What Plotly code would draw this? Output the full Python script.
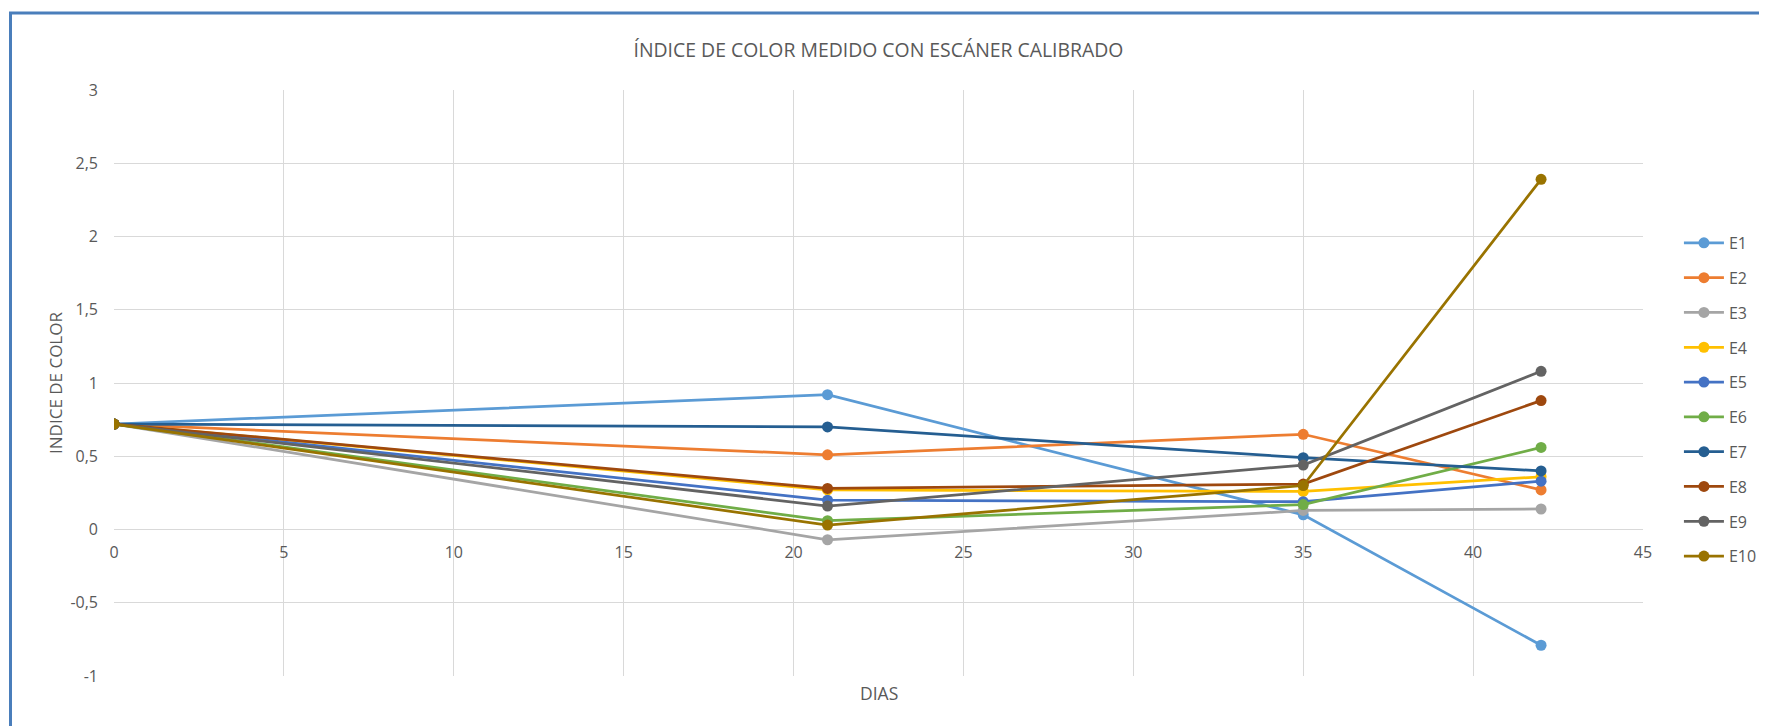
import plotly.graph_objects as go

dias = [0, 21, 35, 42]
series_names = ["E1", "E2", "E3", "E4", "E5", "E6", "E7", "E8", "E9", "E10"]
E1 = [0.72, 0.92, 0.10, -0.79]
E2 = [0.72, 0.51, 0.65, 0.27]
E3 = [0.72, -0.07, 0.13, 0.14]
E4 = [0.72, 0.27, 0.26, 0.36]
E5 = [0.72, 0.20, 0.19, 0.33]
E6 = [0.72, 0.06, 0.17, 0.56]
E7 = [0.72, 0.70, 0.49, 0.40]
E8 = [0.72, 0.28, 0.31, 0.88]
E9 = [0.72, 0.16, 0.44, 1.08]
E10 = [0.72, 0.03, 0.30, 2.39]
series_values = [E1, E2, E3, E4, E5, E6, E7, E8, E9, E10]
colors = ["#5B9BD5", "#ED7D31", "#A5A5A5", "#FFC000", "#4472C4",
          "#70AD47", "#255E91", "#9E480E", "#636363", "#997300"]
x_ticks = [0, 5, 10, 15, 20, 25, 30, 35, 40, 45]
y_ticks = [-1, -0.5, 0, 0.5, 1, 1.5, 2, 2.5, 3]
y_tick_labels = ["-1", "-0,5", "0", "0,5", "1", "1,5", "2", "2,5", "3"]

FONT = "Open Sans"
GRAY = "#595959"
# the page body adds an 8px offset; layout numbers below are figure coords
OFF = 8
L, R, T, B = 114 - OFF, 1767 - (1643 - OFF), 90 - OFF, 726 - (676 - OFF)
PH = 726 - T - B
PW = 1767 - L - R

fig = go.Figure()
for name, vals, col in zip(series_names, series_values, colors):
    fig.add_trace(go.Scatter(
        x=dias, y=vals, name=name, mode="lines+markers",
        line=dict(color=col, width=2.75),
        marker=dict(color=col, size=11),
        legendgroup=name,
    ))

fig.update_layout(
    width=1767, height=726,
    paper_bgcolor="white", plot_bgcolor="white",
    margin=dict(l=L, r=R, t=T, b=B, autoexpand=False),
    font=dict(family=FONT, color=GRAY, size=16),
    title=dict(text="ÍNDICE DE COLOR MEDIDO CON ESCÁNER CALIBRADO",
               x=0.5, xref="paper", xanchor="center",
               y=1 - (50 - OFF) / 726, yanchor="middle",
               font=dict(family=FONT, size=19.4, color=GRAY)),
    xaxis=dict(range=[0, 45], tickvals=x_ticks, showgrid=True,
               gridcolor="#D9D9D9", gridwidth=1, zeroline=False,
               showline=False, anchor="free", position=0.25,
               ticks="", ticklabelstandoff=11, automargin=False,
               tickfont=dict(size=16, color=GRAY),
               title=None),
    yaxis=dict(range=[-1, 3], tickvals=y_ticks, ticktext=y_tick_labels,
               showgrid=True, gridcolor="#D9D9D9", gridwidth=1,
               zeroline=False, showline=False, ticks="",
               ticklabelstandoff=15, automargin=False,
               tickfont=dict(size=16, color=GRAY),
               title=dict(text="INDICE DE COLOR", standoff=3,
                          font=dict(size=17, color=GRAY))),
    legend=dict(x=1.0235, xanchor="left", y=0.768, yanchor="top",
                font=dict(size=16, color=GRAY), tracegroupgap=11,
                itemwidth=40, bgcolor="rgba(0,0,0,0)"),
    showlegend=True,
)

fig.add_annotation(text="DIAS", xref="paper", yref="paper",
                   x=0.5, y=-(693 - 676) / PH, xanchor="center",
                   yanchor="middle", showarrow=False,
                   font=dict(size=17.5, color=GRAY))

# outer chart border (Excel chart frame)
fig.add_shape(type="rect", xref="paper", yref="paper",
              x0=(10.5 - OFF - L) / PW, x1=(1800 - L) / PW,
              y0=-(800 - T - PH) / PH, y1=1 + (T - (13 - OFF)) / PH,
              line=dict(color="#4A7EBB", width=3), fillcolor="rgba(0,0,0,0)",
              layer="above")

fig.write_html("out.html")
